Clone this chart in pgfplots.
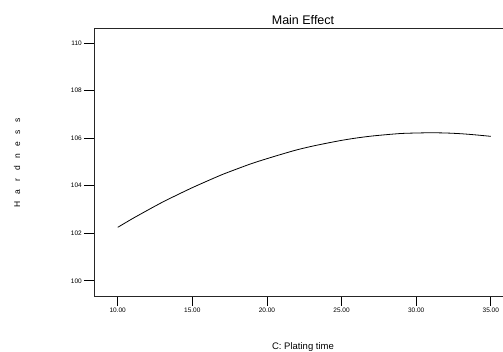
\documentclass[border=0pt]{standalone}
\usepackage{pgfplots}
\pgfplotsset{compat=1.18}
\usepackage{fontspec}
\setmainfont{Liberation Sans}
\newcommand\lsp[1]{\makebox[12pt]{#1}}
\begin{document}
\begin{tikzpicture}[x=1pt,y=1pt]
\path[use as bounding box] (0,0) rectangle (503,352);
\begin{axis}[
 at={(94pt,56pt)}, anchor=south west,
 scale only axis, width=409pt, height=268pt,
 xmin=8.41, xmax=35.82, ymin=99.36, ymax=110.64,
 axis x line=box, axis y line=left,
 axis line style={-, line width=0.8pt, black!85},
 xtick={10,15,20,25,30,35}, ytick={100,102,104,106,108,110},
 tick align=outside, xtick pos=bottom, ytick pos=left,
 major tick length=10pt, minor tick num=0,
 tick style={line width=0.8pt, black},
 /pgf/number format/assume math mode=true,
 ticklabel style={font=\fontsize{6.5}{7}\selectfont},
 xticklabel style={/pgf/number format/fixed,/pgf/number format/fixed zerofill,/pgf/number format/precision=2, inner sep=2pt},
 yticklabel style={inner sep=2pt},
 every axis title shift=0pt,
 title={Main Effect},
 title style={at={(0.511,1.03)}, anchor=center, font=\fontsize{12.5}{14}\selectfont},
 xlabel={C: Plating time},
 xlabel style={at={(0.511,-0.192)}, anchor=center, font=\fontsize{9.5}{11}\selectfont},
 ylabel={\lsp{H}\lsp{a}\lsp{r}\lsp{d}\lsp{n}\lsp{e}\lsp{s}\lsp{s}},
 ylabel style={at={(-0.188,0.5)}, anchor=center, font=\fontsize{8.5}{10}\selectfont},
]
\addplot[black, line width=0.8pt, smooth] coordinates {
(10,102.25) (11,102.62) (12,102.97) (13,103.31) (14,103.62) (15,103.92)
(16,104.20) (17,104.47) (18,104.71) (19,104.94) (20,105.14) (21,105.33)
(22,105.51) (23,105.66) (24,105.79) (25,105.91) (26,106.01) (27,106.09)
(28,106.15) (29,106.20) (30,106.22) (31,106.23) (32,106.22) (33,106.19)
(34,106.14) (35,106.08)
};
\end{axis}
\end{tikzpicture}
\end{document}
